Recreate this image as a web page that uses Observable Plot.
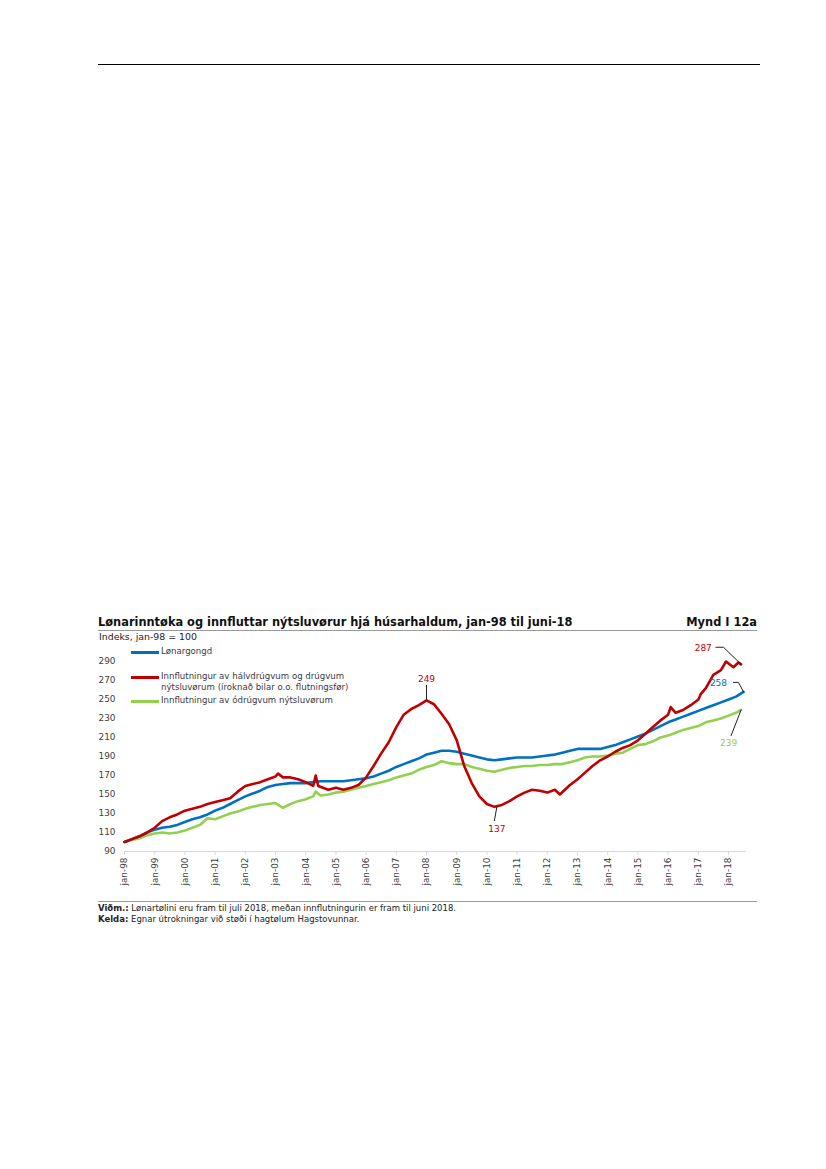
<!DOCTYPE html>
<html>
<head>
<meta charset="utf-8">
<script src="https://cdn.jsdelivr.net/npm/d3@7"></script>
<script src="https://cdn.jsdelivr.net/npm/@observablehq/plot@0.6"></script>
<style>
  html, body { margin: 0; padding: 0; background: #fff; }
  body { width: 826px; height: 1169px; position: relative; font-family: "DejaVu Sans", Verdana, sans-serif; color: #333; }
  .abs { position: absolute; white-space: nowrap; }
  #toprule { left: 98px; top: 64px; width: 662px; height: 0; border-top: 1px solid #000; }
  #title { left: 98px; top: 615px; font-size: 11.4px; font-weight: bold; color: #111; }
  #mynd { right: 69px; top: 615px; font-size: 11.4px; font-weight: bold; color: #111; }
  #titlerule { left: 98px; top: 630px; width: 659px; border-top: 1px solid #9a9a9a; }
  #unit { left: 99px; top: 631px; font-size: 9.4px; color: #222; }
  #chart { left: 98px; top: 645px; }
  .leg { position: absolute; font-size: 8.6px; color: #3a3a48; line-height: 10.6px; }
  .legline { position: absolute; height: 3px; width: 28px; }
  #footrule { left: 98px; top: 901px; width: 659px; border-top: 1px solid #9a9a9a; }
  .foot { left: 98px; font-size: 8.5px; color: #222; }
</style>
</head>
<body>
<div id="toprule" class="abs"></div>
<div id="title" class="abs">Lønarinntøka og innfluttar nýtsluvørur hjá húsarhaldum, jan-98 til juni-18</div>
<div id="mynd" class="abs">Mynd I 12a</div>
<div id="titlerule" class="abs"></div>
<div id="unit" class="abs">Indeks, jan-98 = 100</div>
<div id="chart" class="abs"></div>
<div id="legend"></div>
<div id="footrule" class="abs"></div>
<div class="abs foot" style="top:903px"><b>Viðm.:</b> Lønartølini eru fram til juli 2018, meðan innflutningurin er fram til juni 2018.</div>
<div class="abs foot" style="top:914px"><b>Kelda:</b> Egnar útrokningar við støði í hagtølum Hagstovunnar.</div>
<script>
// ---------- DATA ----------
const seriesNames = [
  "Lønargongd",
  "Innflutningur av hálvdrúgvum og drúgvum\nnýtsluvørum (íroknað bilar o.o. flutningsfør)",
  "Innflutningur av ódrúgvum nýtsluvørum"
];
const seriesColors = ["#0070C0", "#C00000", "#92D050"];

const wageDates = ["1998-01","1998-04","1998-07","1998-10","1999-01","1999-04","1999-07","1999-10",
  "2000-01","2000-04","2000-07","2000-10","2001-01","2001-04","2001-07","2001-10",
  "2002-01","2002-04","2002-07","2002-10","2003-01","2003-04","2003-07","2003-10",
  "2004-01","2004-04","2004-07","2004-10","2005-01","2005-04","2005-07","2005-10",
  "2006-01","2006-04","2006-07","2006-10","2007-01","2007-04","2007-07","2007-10",
  "2008-01","2008-04","2008-07","2008-10","2009-01","2009-04","2009-07","2009-10",
  "2010-01","2010-04","2010-07","2010-10","2011-01","2011-04","2011-07","2011-10",
  "2012-01","2012-04","2012-07","2012-10","2013-01","2013-04","2013-07","2013-10",
  "2014-01","2014-04","2014-07","2014-10","2015-01","2015-04","2015-07","2015-10",
  "2016-01","2016-04","2016-07","2016-10","2017-01","2017-04","2017-07","2017-10",
  "2018-01","2018-04","2018-07"];
const wageValues = [100,103,106,110,113,115,116,118,
  121,124,126,129,133,136,140,144,
  148,151,154,158,160,161,162,162,
  162,163,164,164,164,164,165,166,
  167,169,172,175,179,182,185,188,
  192,194,196,196,195,193,191,189,
  187,186,187,188,189,189,189,190,
  191,192,194,196,198,198,198,198,
  200,202,205,208,211,214,218,222,
  226,229,232,235,238,241,244,247,
  250,253,258];

const durableDates = ["1998-01","1998-04","1998-07","1998-10","1999-01","1999-04","1999-07","1999-10",
  "2000-01","2000-04","2000-07","2000-10","2001-01","2001-04","2001-07","2001-10",
  "2002-01","2002-04","2002-07","2002-10","2003-01","2003-02","2003-04","2003-07","2003-10",
  "2004-01","2004-04","2004-05","2004-06","2004-10","2005-01","2005-04","2005-07","2005-10",
  "2006-01","2006-04","2006-07","2006-10","2007-01","2007-04","2007-07","2007-10",
  "2008-01","2008-04","2008-07","2008-10","2009-01","2009-04","2009-07","2009-10",
  "2010-01","2010-04","2010-07","2010-10","2011-01","2011-04","2011-07","2011-10",
  "2012-01","2012-04","2012-06","2012-10","2013-01","2013-04","2013-07","2013-10",
  "2014-01","2014-04","2014-07","2014-10","2015-01","2015-04","2015-07","2015-10",
  "2016-01","2016-02","2016-04","2016-07","2016-10","2017-01","2017-02","2017-04","2017-07","2017-10",
  "2017-12","2018-03","2018-05","2018-06"];
const durableValues = [100,103,106,110,115,122,126,129,
  133,135,137,140,142,144,146,153,
  159,161,163,166,169,172,168,168,166,
  163,159,170,159,155,157,155,157,160,
  168,180,193,205,221,234,240,244,
  249,245,235,224,207,180,162,148,
  140,137,139,143,148,152,155,154,
  152,155,150,160,166,173,180,186,
  190,195,199,202,207,214,221,228,
  234,242,236,239,244,250,256,262,276,281,
  290,284,289,287];

const nondurableDates = ["1998-01","1998-04","1998-07","1998-10","1999-01","1999-04","1999-07","1999-10",
  "2000-01","2000-04","2000-07","2000-10","2001-01","2001-04","2001-07","2001-10",
  "2002-01","2002-04","2002-07","2002-10","2003-01","2003-04","2003-07","2003-10",
  "2004-01","2004-04","2004-05","2004-07","2004-10","2005-01","2005-04","2005-07","2005-10",
  "2006-01","2006-04","2006-07","2006-10","2007-01","2007-04","2007-07","2007-10",
  "2008-01","2008-04","2008-07","2008-10","2009-01","2009-04","2009-07","2009-10",
  "2010-01","2010-04","2010-07","2010-10","2011-01","2011-04","2011-07","2011-10",
  "2012-01","2012-04","2012-07","2012-10","2013-01","2013-04","2013-07","2013-10",
  "2014-01","2014-04","2014-07","2014-10","2015-01","2015-04","2015-07","2015-10",
  "2016-01","2016-04","2016-07","2016-10","2017-01","2017-04","2017-07","2017-10",
  "2018-01","2018-04","2018-06"];
const nondurableValues = [100,102,104,107,109,110,109,110,
  112,115,118,125,124,127,130,132,
  135,137,139,140,141,136,140,143,
  145,148,153,149,150,152,153,155,157,
  159,161,163,165,168,170,172,176,
  179,181,185,183,182,182,179,177,
  175,174,176,178,179,180,180,181,
  181,182,182,184,186,189,190,190,
  191,193,194,198,202,203,206,210,
  212,215,218,220,222,226,228,230,
  233,236,239];

const xTickLabels = ["jan-98","jan-99","jan-00","jan-01","jan-02","jan-03","jan-04","jan-05","jan-06","jan-07",
  "jan-08","jan-09","jan-10","jan-11","jan-12","jan-13","jan-14","jan-15","jan-16","jan-17","jan-18"];
const yTicks = [90,110,130,150,170,190,210,230,250,270,290];

// Value labels: the labelled point, where the label sits, and the leader path (data units)
const annotations = [
  {label: "249", color: "#C00000", tdate: "2008-01", tvalue: 271,
   path: [["2008-01", 265], ["2008-01", 250]]},
  {label: "137", color: "#C00000", tdate: "2010-05", tvalue: 114,
   path: [["2010-04", 122.5], ["2010-05", 137]]},
  {label: "287", color: "#C00000", tdate: "2017-03", tvalue: 304,
   path: [["2017-08", 305], ["2017-11", 305], ["2018-06", 287]]},
  {label: "258", color: "#0070C0", tdate: "2017-09", tvalue: 267,
   path: [["2018-03", 268], ["2018-05", 268], ["2018-07", 258]]},
  {label: "239", color: "#92D050", tdate: "2018-01", tvalue: 204,
   path: [["2018-02", 212], ["2018-06", 239]]}
];

// ---------- BUILD ----------
const parse = d3.utcParse("%Y-%m");
const rows = [];
[[wageDates, wageValues], [durableDates, durableValues], [nondurableDates, nondurableValues]].forEach(([ds, vs], i) => {
  ds.forEach((d, j) => rows.push({series: i, date: parse(d), value: vs[j]}));
});
const tickDates = xTickLabels.map(s => { const yy = +s.slice(4); return new Date(Date.UTC(yy < 50 ? 2000 + yy : 1900 + yy, 0, 1)); });
const labelFor = new Map(tickDates.map((d, i) => [+d, xTickLabels[i]]));

const ann = annotations.map(a => ({...a, td: parse(a.tdate)}));
const leaders = [];
annotations.forEach((a, i) => a.path.forEach(([d, v]) => leaders.push({g: i, date: parse(d), value: v})));

const chart = Plot.plot({
  width: 659,
  height: 250,
  marginLeft: 26,
  marginRight: 11.4,
  marginTop: 16,
  marginBottom: 44,
  x: {type: "utc", domain: [new Date(Date.UTC(1998, 0, 1)), new Date(Date.UTC(2018, 7, 1))]},
  y: {domain: [90, 290]},
  style: {fontFamily: "DejaVu Sans, Verdana, sans-serif", fontSize: "8.9px", color: "#404040", background: "transparent", overflow: "visible"},
  marks: [
    Plot.ruleY([90], {stroke: "#d9d9d9", strokeWidth: 1}),
    Plot.axisX({ticks: tickDates, tickFormat: d => labelFor.get(+d), tickRotate: -90, tickSize: 4, tickPadding: 2, stroke: "#d9d9d9", fill: "#404040"}),
    Plot.axisY({ticks: yTicks, tickSize: 0, tickPadding: 9, fill: "#404040"}),
    Plot.line(rows.filter(r => r.series === 2), {x: "date", y: "value", stroke: seriesColors[2], strokeWidth: 2.6, strokeLinejoin: "round"}),
    Plot.line(rows.filter(r => r.series === 0), {x: "date", y: "value", stroke: seriesColors[0], strokeWidth: 2.6, strokeLinejoin: "round"}),
    Plot.line(rows.filter(r => r.series === 1), {x: "date", y: "value", stroke: seriesColors[1], strokeWidth: 2.6, strokeLinejoin: "round"}),
    Plot.line(leaders, {x: "date", y: "value", z: "g", stroke: "#222", strokeWidth: 1}),
    Plot.text(ann, {x: "td", y: "tvalue", text: "label", fill: d => d.color, fontSize: 9, textAnchor: "middle"})
  ]
});
document.getElementById("chart").appendChild(chart);

// ---------- LEGEND (HTML) ----------
const legend = document.getElementById("legend");
const legTops = [652, 677, 701];
seriesNames.forEach((name, i) => {
  const line = document.createElement("div");
  line.className = "legline abs";
  line.style.left = "131px";
  line.style.top = (legTops[i] - 1.5) + "px";
  line.style.background = seriesColors[i];
  legend.appendChild(line);
  const t = document.createElement("div");
  t.className = "leg";
  t.style.left = "161px";
  t.style.top = (legTops[i] - 6) + "px";
  t.innerHTML = name.replace("\n", "<br>");
  legend.appendChild(t);
});
</script>
</body>
</html>
